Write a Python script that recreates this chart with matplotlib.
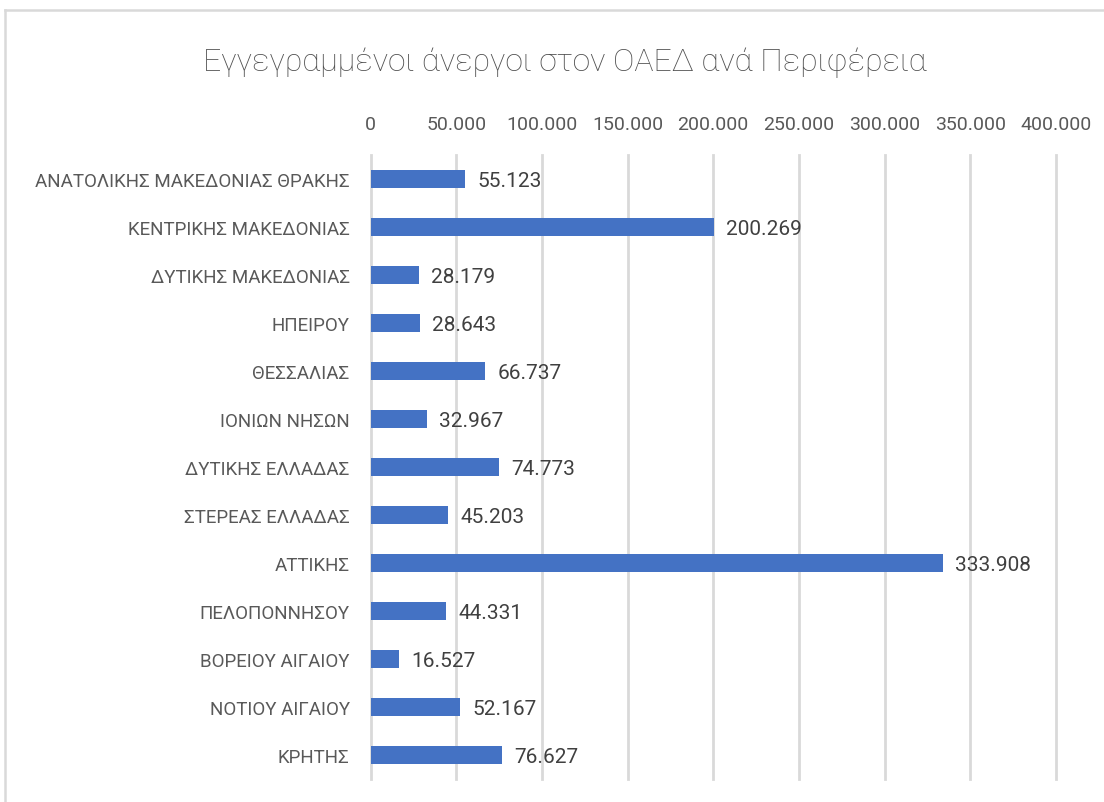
import matplotlib
matplotlib.use("Agg")
import matplotlib.pyplot as plt
from matplotlib.lines import Line2D
from matplotlib.ticker import FuncFormatter

plt.rcParams['font.family'] = ['Roboto', 'DejaVu Sans']

regions = [
    "ΑΝΑΤΟΛΙΚΗΣ ΜΑΚΕΔΟΝΙΑΣ ΘΡΑΚΗΣ",
    "ΚΕΝΤΡΙΚΗΣ ΜΑΚΕΔΟΝΙΑΣ",
    "ΔΥΤΙΚΗΣ ΜΑΚΕΔΟΝΙΑΣ",
    "ΗΠΕΙΡΟΥ",
    "ΘΕΣΣΑΛΙΑΣ",
    "ΙΟΝΙΩΝ ΝΗΣΩΝ",
    "ΔΥΤΙΚΗΣ ΕΛΛΑΔΑΣ",
    "ΣΤΕΡΕΑΣ ΕΛΛΑΔΑΣ",
    "ΑΤΤΙΚΗΣ",
    "ΠΕΛΟΠΟΝΝΗΣΟΥ",
    "ΒΟΡΕΙΟΥ ΑΙΓΑΙΟΥ",
    "ΝΟΤΙΟΥ ΑΙΓΑΙΟΥ",
    "ΚΡΗΤΗΣ",
]
unemployed = [55123, 200269, 28179, 28643, 66737, 32967, 74773,
              45203, 333908, 44331, 16527, 52167, 76627]
x_ticks = [0, 50000, 100000, 150000, 200000, 250000, 300000, 350000, 400000]
title = "Εγγεγραμμένοι άνεργοι στον ΟΑΕΔ ανά Περιφέρεια"

W, H = 1104, 803
fig = plt.figure(figsize=(W / 100, H / 100), dpi=100)

# chart border (cropped: only top and left edges visible)
border = dict(transform=fig.transFigure, color='#D9D9D9', linewidth=1.8)
fig.add_artist(Line2D([5 / W, 1.0], [1 - 11 / H, 1 - 11 / H], **border))
fig.add_artist(Line2D([5 / W, 5 / W], [0.0, 1 - 11 / H], **border))

left, right = 370.5 / W, 1056 / W
top, bottom = 1 - 156 / H, 1 - 780 / H
ax = fig.add_axes([left, bottom, right - left, top - bottom])

def thousands(v, pos=None):
    return f"{int(round(v)):,}".replace(",", ".")

y = list(range(len(regions)))
ax.barh(y, unemployed, height=0.36, color='#4472C4', zorder=3)
for yi, v in zip(y, unemployed):
    ax.annotate(thousands(v), (v, yi), xytext=(9, -1), textcoords='offset points',
                va='center', ha='left', fontsize=15, color='#404040')

ax.set_ylim(len(regions) - 0.5, -0.5)
ax.set_xlim(x_ticks[0], x_ticks[-1])
ax.set_xticks(x_ticks)
ax.xaxis.set_major_formatter(FuncFormatter(thousands))
ax.xaxis.tick_top()
ax.set_yticks(y)
ax.set_yticklabels(regions)
ax.tick_params(axis='x', length=0, pad=16, labelsize=14, labelcolor='#595959')
ax.tick_params(axis='y', length=0, pad=15, labelsize=13.5, labelcolor='#595959')
ax.grid(axis='x', color='#D9D9D9', linewidth=2, zorder=0)
for gl in ax.get_xgridlines():
    gl.set_clip_on(False)
for s in ax.spines.values():
    s.set_visible(False)

fig.text(565 / W, 1 - 63 / H, title, ha='center', va='center',
         fontsize=23, color='#505050', fontweight='light')

fig.savefig("out.png", dpi=100, facecolor='white')
